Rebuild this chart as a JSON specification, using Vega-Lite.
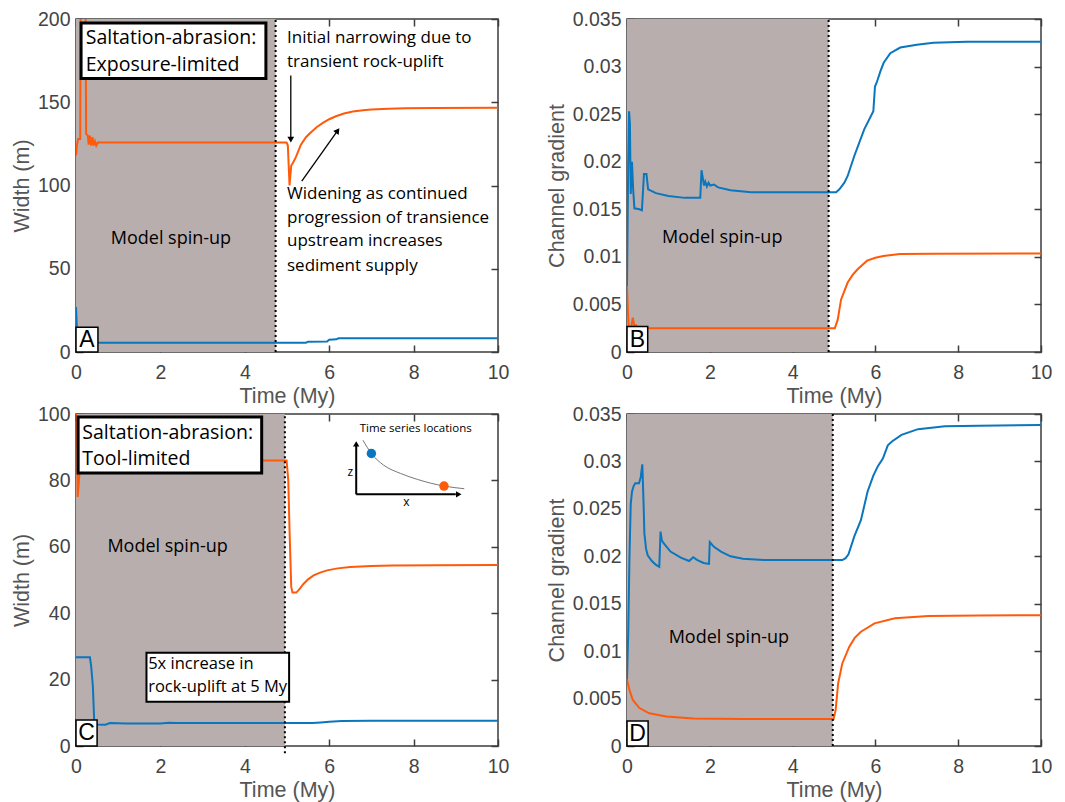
{
 "$schema": "https://vega.github.io/schema/vega-lite/v6.json",
 "padding": {"left": 10, "top": 8, "right": 5, "bottom": 0},
 "background": "white",
 "columns": 2,
 "spacing": {"row": 62, "column": 129},
 "bounds": "flush",
 "align": "each",
 "config": {
  "view": {"stroke": "#3d3d3d", "strokeWidth": 1.5},
  "axis": {"grid": false, "domain": false, "labelFont": "Liberation Sans", "labelFontSize": 19.5, "labelColor": "#444444", "titleFont": "Liberation Sans", "titleFontSize": 21.5, "titleFontWeight": "normal", "titleColor": "#555555", "tickColor": "#3d3d3d", "tickWidth": 1.5, "tickSize": -7, "labelFlush": false, "labelOverlap": false, "titlePadding": 4},
  "axisX": {"labelPadding": 18},
  "axisY": {"labelPadding": 13},
  "text": {"font": "Open Sans", "color": "black"}
 },
 "datasets": {
  "A": [
   {"t":0,"v":27,"s":"up"},{"t":0.02,"v":15,"s":"up"},{"t":0.04,"v":6,"s":"up"},{"t":0.1,"v":5.6,"s":"up"},{"t":5.45,"v":5.6,"s":"up"},{"t":5.5,"v":6.2,"s":"up"},{"t":5.95,"v":6.3,"s":"up"},{"t":6.0,"v":7.4,"s":"up"},{"t":6.17,"v":7.6,"s":"up"},{"t":6.22,"v":8.2,"s":"up"},{"t":10,"v":8.2,"s":"up"},
   {"t":0,"v":118,"s":"down"},{"t":0.02,"v":124,"s":"down"},{"t":0.05,"v":128,"s":"down"},{"t":0.1,"v":128,"s":"down"},{"t":0.115,"v":250,"s":"down"},{"t":0.22,"v":250,"s":"down"},{"t":0.24,"v":131,"s":"down"},{"t":0.28,"v":130,"s":"down"},{"t":0.3,"v":124.5,"s":"down"},{"t":0.33,"v":130,"s":"down"},{"t":0.36,"v":124,"s":"down"},{"t":0.39,"v":129,"s":"down"},{"t":0.42,"v":124,"s":"down"},{"t":0.45,"v":126.5,"s":"down"},{"t":0.48,"v":124,"s":"down"},{"t":0.52,"v":126,"s":"down"},{"t":0.6,"v":125.8,"s":"down"},{"t":4.99,"v":125.8,"s":"down"},{"t":5.02,"v":124,"s":"down"},{"t":5.06,"v":100,"s":"down"},{"t":5.1,"v":112,"s":"down"},{"t":5.14,"v":113.5,"s":"down"},{"t":5.21,"v":117,"s":"down"},{"t":5.33,"v":124.5,"s":"down"},{"t":5.45,"v":129,"s":"down"},{"t":5.55,"v":131.5,"s":"down"},{"t":5.7,"v":135,"s":"down"},{"t":5.85,"v":137.6,"s":"down"},{"t":6.0,"v":139.8,"s":"down"},{"t":6.16,"v":141.6,"s":"down"},{"t":6.35,"v":143.2,"s":"down"},{"t":6.56,"v":144.4,"s":"down"},{"t":6.8,"v":145.2,"s":"down"},{"t":7.0,"v":145.6,"s":"down"},{"t":7.4,"v":146.1,"s":"down"},{"t":7.8,"v":146.4,"s":"down"},{"t":8.5,"v":146.6,"s":"down"},{"t":10,"v":146.7,"s":"down"}
  ],
  "B": [
   {"t":0,"v":0.0069,"s":"up"},{"t":0.03,"v":0.02,"s":"up"},{"t":0.05,"v":0.0253,"s":"up"},{"t":0.07,"v":0.024,"s":"up"},{"t":0.09,"v":0.0166,"s":"up"},{"t":0.12,"v":0.02,"s":"up"},{"t":0.15,"v":0.017,"s":"up"},{"t":0.18,"v":0.0151,"s":"up"},{"t":0.3,"v":0.015,"s":"up"},{"t":0.36,"v":0.0149,"s":"up"},{"t":0.41,"v":0.0187,"s":"up"},{"t":0.47,"v":0.0187,"s":"up"},{"t":0.51,"v":0.0171,"s":"up"},{"t":0.7,"v":0.0167,"s":"up"},{"t":1.0,"v":0.0164,"s":"up"},{"t":1.4,"v":0.0162,"s":"up"},{"t":1.77,"v":0.0162,"s":"up"},{"t":1.8,"v":0.0191,"s":"up"},{"t":1.86,"v":0.0175,"s":"up"},{"t":1.89,"v":0.0179,"s":"up"},{"t":1.93,"v":0.0174,"s":"up"},{"t":1.97,"v":0.0178,"s":"up"},{"t":2.01,"v":0.0175,"s":"up"},{"t":2.1,"v":0.0176,"s":"up"},{"t":2.2,"v":0.0173,"s":"up"},{"t":2.5,"v":0.017,"s":"up"},{"t":3.0,"v":0.0168,"s":"up"},{"t":5.05,"v":0.0168,"s":"up"},{"t":5.13,"v":0.0171,"s":"up"},{"t":5.25,"v":0.0178,"s":"up"},{"t":5.33,"v":0.0185,"s":"up"},{"t":5.49,"v":0.0206,"s":"up"},{"t":5.73,"v":0.0234,"s":"up"},{"t":5.95,"v":0.0253,"s":"up"},{"t":5.99,"v":0.0279,"s":"up"},{"t":6.03,"v":0.0283,"s":"up"},{"t":6.12,"v":0.0295,"s":"up"},{"t":6.2,"v":0.0304,"s":"up"},{"t":6.36,"v":0.0314,"s":"up"},{"t":6.6,"v":0.032,"s":"up"},{"t":7.0,"v":0.0323,"s":"up"},{"t":7.4,"v":0.0325,"s":"up"},{"t":8.2,"v":0.0326,"s":"up"},{"t":10,"v":0.0326,"s":"up"},
   {"t":0,"v":0.0069,"s":"down"},{"t":0.02,"v":0.0045,"s":"down"},{"t":0.04,"v":0.0026,"s":"down"},{"t":0.1,"v":0.0026,"s":"down"},{"t":0.14,"v":0.0036,"s":"down"},{"t":0.18,"v":0.0026,"s":"down"},{"t":0.22,"v":0.0028,"s":"down"},{"t":0.26,"v":0.0025,"s":"down"},{"t":5.02,"v":0.0025,"s":"down"},{"t":5.09,"v":0.0034,"s":"down"},{"t":5.17,"v":0.0055,"s":"down"},{"t":5.33,"v":0.0073,"s":"down"},{"t":5.45,"v":0.0081,"s":"down"},{"t":5.57,"v":0.0087,"s":"down"},{"t":5.8,"v":0.0096,"s":"down"},{"t":6.0,"v":0.0099,"s":"down"},{"t":6.19,"v":0.0101,"s":"down"},{"t":6.59,"v":0.0103,"s":"down"},{"t":7.4,"v":0.01033,"s":"down"},{"t":10,"v":0.01036,"s":"down"}
  ],
  "C": [
   {"t":0,"v":26.7,"s":"up"},{"t":0.33,"v":26.7,"s":"up"},{"t":0.36,"v":24,"s":"up"},{"t":0.4,"v":18,"s":"up"},{"t":0.43,"v":8,"s":"up"},{"t":0.46,"v":6.5,"s":"up"},{"t":0.7,"v":6.4,"s":"up"},{"t":0.8,"v":6.9,"s":"up"},{"t":1.2,"v":6.8,"s":"up"},{"t":2.0,"v":6.8,"s":"up"},{"t":2.2,"v":7.0,"s":"up"},{"t":2.4,"v":6.9,"s":"up"},{"t":5.6,"v":6.9,"s":"up"},{"t":5.8,"v":7.1,"s":"up"},{"t":6.0,"v":7.3,"s":"up"},{"t":6.3,"v":7.5,"s":"up"},{"t":7.0,"v":7.6,"s":"up"},{"t":10,"v":7.6,"s":"up"},
   {"t":0,"v":100,"s":"down"},{"t":0.02,"v":99,"s":"down"},{"t":0.04,"v":75,"s":"down"},{"t":0.07,"v":80,"s":"down"},{"t":0.1,"v":86,"s":"down"},{"t":4.99,"v":86,"s":"down"},{"t":5.03,"v":80,"s":"down"},{"t":5.06,"v":65,"s":"down"},{"t":5.1,"v":48,"s":"down"},{"t":5.13,"v":46.2,"s":"down"},{"t":5.22,"v":46.2,"s":"down"},{"t":5.3,"v":47.3,"s":"down"},{"t":5.39,"v":48.8,"s":"down"},{"t":5.5,"v":50.2,"s":"down"},{"t":5.63,"v":51.4,"s":"down"},{"t":5.8,"v":52.3,"s":"down"},{"t":5.95,"v":52.9,"s":"down"},{"t":6.2,"v":53.5,"s":"down"},{"t":6.5,"v":53.9,"s":"down"},{"t":7.0,"v":54.2,"s":"down"},{"t":7.5,"v":54.35,"s":"down"},{"t":8.5,"v":54.45,"s":"down"},{"t":10,"v":54.5,"s":"down"}
  ],
  "D": [
   {"t":0,"v":0.007,"s":"up"},{"t":0.03,"v":0.012,"s":"up"},{"t":0.06,"v":0.02,"s":"up"},{"t":0.09,"v":0.0255,"s":"up"},{"t":0.12,"v":0.0268,"s":"up"},{"t":0.16,"v":0.0274,"s":"up"},{"t":0.2,"v":0.0277,"s":"up"},{"t":0.29,"v":0.0277,"s":"up"},{"t":0.33,"v":0.0283,"s":"up"},{"t":0.37,"v":0.0297,"s":"up"},{"t":0.4,"v":0.0256,"s":"up"},{"t":0.42,"v":0.0224,"s":"up"},{"t":0.46,"v":0.0208,"s":"up"},{"t":0.5,"v":0.0201,"s":"up"},{"t":0.6,"v":0.0195,"s":"up"},{"t":0.7,"v":0.0191,"s":"up"},{"t":0.78,"v":0.0189,"s":"up"},{"t":0.81,"v":0.0226,"s":"up"},{"t":0.84,"v":0.0217,"s":"up"},{"t":0.88,"v":0.0214,"s":"up"},{"t":1.05,"v":0.0205,"s":"up"},{"t":1.3,"v":0.01985,"s":"up"},{"t":1.5,"v":0.0195,"s":"up"},{"t":1.6,"v":0.0199,"s":"up"},{"t":1.7,"v":0.0196,"s":"up"},{"t":1.85,"v":0.0193,"s":"up"},{"t":1.98,"v":0.0192,"s":"up"},{"t":2.0,"v":0.0215,"s":"up"},{"t":2.1,"v":0.021,"s":"up"},{"t":2.27,"v":0.0205,"s":"up"},{"t":2.5,"v":0.02,"s":"up"},{"t":2.8,"v":0.01975,"s":"up"},{"t":3.3,"v":0.0196,"s":"up"},{"t":5.2,"v":0.0196,"s":"up"},{"t":5.28,"v":0.0198,"s":"up"},{"t":5.35,"v":0.0202,"s":"up"},{"t":5.49,"v":0.0221,"s":"up"},{"t":5.65,"v":0.0238,"s":"up"},{"t":5.81,"v":0.0268,"s":"up"},{"t":5.95,"v":0.0285,"s":"up"},{"t":6.06,"v":0.0295,"s":"up"},{"t":6.18,"v":0.0303,"s":"up"},{"t":6.3,"v":0.0317,"s":"up"},{"t":6.4,"v":0.0321,"s":"up"},{"t":6.63,"v":0.0328,"s":"up"},{"t":7.03,"v":0.0334,"s":"up"},{"t":7.68,"v":0.0337,"s":"up"},{"t":8.5,"v":0.03377,"s":"up"},{"t":10,"v":0.03384,"s":"up"},
   {"t":0,"v":0.007,"s":"down"},{"t":0.06,"v":0.0059,"s":"down"},{"t":0.14,"v":0.00485,"s":"down"},{"t":0.3,"v":0.004,"s":"down"},{"t":0.54,"v":0.00345,"s":"down"},{"t":0.95,"v":0.0031,"s":"down"},{"t":1.6,"v":0.0029,"s":"down"},{"t":2.8,"v":0.00285,"s":"down"},{"t":4.99,"v":0.00285,"s":"down"},{"t":5.04,"v":0.0038,"s":"down"},{"t":5.1,"v":0.0066,"s":"down"},{"t":5.2,"v":0.0087,"s":"down"},{"t":5.37,"v":0.01047,"s":"down"},{"t":5.5,"v":0.0114,"s":"down"},{"t":5.65,"v":0.01205,"s":"down"},{"t":5.98,"v":0.01293,"s":"down"},{"t":6.47,"v":0.01346,"s":"down"},{"t":7.28,"v":0.0137,"s":"down"},{"t":8.5,"v":0.01377,"s":"down"},{"t":10,"v":0.01378,"s":"down"}
  ]
 },
 "concat": [
  {
   "width": 422, "height": 333,
   "resolve": {"axis": {"x": "independent", "y": "independent"}},
   "layer": [
    {"data": {"values": [{"t0": 0, "t1": 4.73, "v0": 0, "v1": 200}]},
     "mark": {"type": "rect", "color": "#b9aeae"},
     "encoding": {
      "x": {"field": "t0", "type": "quantitative", "scale": {"domain": [0, 10], "nice": false}, "axis": {"orient": "top", "labels": false, "title": null, "values": [0, 2, 4, 6, 8, 10]}},
      "x2": {"field": "t1"},
      "y": {"field": "v0", "type": "quantitative", "scale": {"domain": [0, 200], "nice": false}, "axis": {"orient": "right", "labels": false, "title": null, "values": [0, 50, 100, 150, 200]}},
      "y2": {"field": "v1"}}},
    {"data": {"name": "A"},
     "mark": {"type": "line", "strokeWidth": 2, "clip": true},
     "encoding": {
      "x": {"field": "t", "type": "quantitative", "axis": {"title": "Time (My)", "values": [0, 2, 4, 6, 8, 10]}},
      "y": {"field": "v", "type": "quantitative", "axis": {"title": "Width (m)", "values": [0, 50, 100, 150, 200]}},
      "color": {"field": "s", "type": "nominal", "scale": {"domain": ["up", "down"], "range": ["#0a76be", "#ff5a0a"]}, "legend": null}}},
    {"data": {"values": [{"t": 4.73, "v0": 0, "v1": 200}]},
     "mark": {"type": "rule", "strokeDash": [2, 3], "strokeWidth": 2, "color": "black"},
     "encoding": {"x": {"field": "t", "type": "quantitative", "axis": null}, "y": {"field": "v0", "type": "quantitative", "axis": null}, "y2": {"field": "v1"}}},
    {"data": {"values": [{"t0": 0.12, "t1": 4.5, "v0": 164.2, "v1": 197.6}]},
     "mark": {"type": "rect", "fill": "white", "stroke": "black", "strokeWidth": 3},
     "encoding": {"x": {"field": "t0", "type": "quantitative", "axis": null}, "x2": {"field": "t1"}, "y": {"field": "v0", "type": "quantitative", "axis": null}, "y2": {"field": "v1"}}},
    {"data": {"values": [{"t0": 0, "t1": 0.52, "v0": 0, "v1": 14.9}]},
     "mark": {"type": "rect", "fill": "white", "stroke": "black", "strokeWidth": 1.5},
     "encoding": {"x": {"field": "t0", "type": "quantitative", "axis": null}, "x2": {"field": "t1"}, "y": {"field": "v0", "type": "quantitative", "axis": null}, "y2": {"field": "v1"}}},
    {"data": {"values": [{"t": 0.26, "v": 7.3, "label": "A"}]},
     "mark": {"type": "text", "font": "Liberation Sans", "fontSize": 23, "align": "center", "baseline": "middle"},
     "encoding": {"x": {"field": "t", "type": "quantitative", "axis": null}, "y": {"field": "v", "type": "quantitative", "axis": null}, "text": {"field": "label"}}},
    {"data": {"values": [{"t": 0.23, "v": 188.3, "label": "Saltation-abrasion:"}, {"t": 0.23, "v": 172.4, "label": "Exposure-limited"}]},
     "mark": {"type": "text", "fontSize": 19.5, "align": "left", "baseline": "middle"},
     "encoding": {"x": {"field": "t", "type": "quantitative", "axis": null}, "y": {"field": "v", "type": "quantitative", "axis": null}, "text": {"field": "label"}}},
    {"data": {"values": [{"t": 2.25, "v": 67.9, "label": "Model spin-up"}]},
     "mark": {"type": "text", "fontSize": 18, "align": "center", "baseline": "middle"},
     "encoding": {"x": {"field": "t", "type": "quantitative", "axis": null}, "y": {"field": "v", "type": "quantitative", "axis": null}, "text": {"field": "label"}}},
    {"data": {"values": [{"t": 5.0, "v": 188.7, "label": "Initial narrowing due to"}, {"t": 5.0, "v": 174.3, "label": "transient rock-uplift"}, {"t": 5.0, "v": 94.7, "label": "Widening as continued"}, {"t": 5.0, "v": 80.4, "label": "progression of transience"}, {"t": 5.0, "v": 66.4, "label": "upstream increases"}, {"t": 5.0, "v": 51.9, "label": "sediment supply"}]},
     "mark": {"type": "text", "fontSize": 17, "align": "left", "baseline": "middle"},
     "encoding": {"x": {"field": "t", "type": "quantitative", "axis": null}, "y": {"field": "v", "type": "quantitative", "axis": null}, "text": {"field": "label"}}},
    {"data": {"values": [{"t0": 5.09, "v0": 166, "t1": 5.09, "v1": 128}, {"t0": 5.35, "v0": 102.7, "t1": 6.2, "v1": 133}]},
     "mark": {"type": "rule", "strokeWidth": 1.3, "color": "black"},
     "encoding": {"x": {"field": "t0", "type": "quantitative", "axis": null}, "y": {"field": "v0", "type": "quantitative", "axis": null}, "x2": {"field": "t1"}, "y2": {"field": "v1"}}},
    {"data": {"values": [{"t": 5.09, "v": 127.5}]},
     "mark": {"type": "point", "shape": "triangle-down", "filled": true, "color": "black", "size": 45, "opacity": 1},
     "encoding": {"x": {"field": "t", "type": "quantitative", "axis": null}, "y": {"field": "v", "type": "quantitative", "axis": null}}},
    {"data": {"values": [{"t": 6.2, "v": 133}]},
     "mark": {"type": "point", "shape": "triangle-up", "filled": true, "color": "black", "size": 45, "opacity": 1, "angle": 36},
     "encoding": {"x": {"field": "t", "type": "quantitative", "axis": null}, "y": {"field": "v", "type": "quantitative", "axis": null}}}
   ]
  },
  {
   "width": 414, "height": 333,
   "resolve": {"axis": {"x": "independent", "y": "independent"}},
   "layer": [
    {"data": {"values": [{"t0": 0, "t1": 4.87, "v0": 0, "v1": 0.035}]},
     "mark": {"type": "rect", "color": "#b9aeae"},
     "encoding": {
      "x": {"field": "t0", "type": "quantitative", "scale": {"domain": [0, 10], "nice": false}, "axis": {"orient": "top", "labels": false, "title": null, "values": [0, 2, 4, 6, 8, 10]}},
      "x2": {"field": "t1"},
      "y": {"field": "v0", "type": "quantitative", "scale": {"domain": [0, 0.035], "nice": false}, "axis": {"orient": "right", "labels": false, "title": null, "values": [0, 0.005, 0.01, 0.015, 0.02, 0.025, 0.03, 0.035]}},
      "y2": {"field": "v1"}}},
    {"data": {"name": "B"},
     "mark": {"type": "line", "strokeWidth": 2, "clip": true},
     "encoding": {
      "x": {"field": "t", "type": "quantitative", "axis": {"title": "Time (My)", "values": [0, 2, 4, 6, 8, 10]}},
      "y": {"field": "v", "type": "quantitative", "axis": {"title": "Channel gradient", "format": "~g", "values": [0, 0.005, 0.01, 0.015, 0.02, 0.025, 0.03, 0.035]}},
      "color": {"field": "s", "type": "nominal", "scale": {"domain": ["up", "down"], "range": ["#0a76be", "#ff5a0a"]}, "legend": null}}},
    {"data": {"values": [{"t": 4.87, "v0": 0, "v1": 0.035}]},
     "mark": {"type": "rule", "strokeDash": [2, 3], "strokeWidth": 2, "color": "black"},
     "encoding": {"x": {"field": "t", "type": "quantitative", "axis": null}, "y": {"field": "v0", "type": "quantitative", "axis": null}, "y2": {"field": "v1"}}},
    {"data": {"values": [{"t0": 0, "t1": 0.5, "v0": 0, "v1": 0.00268}]},
     "mark": {"type": "rect", "fill": "white", "stroke": "black", "strokeWidth": 1.5},
     "encoding": {"x": {"field": "t0", "type": "quantitative", "axis": null}, "x2": {"field": "t1"}, "y": {"field": "v0", "type": "quantitative", "axis": null}, "y2": {"field": "v1"}}},
    {"data": {"values": [{"t": 0.25, "v": 0.0013, "label": "B"}]},
     "mark": {"type": "text", "font": "Liberation Sans", "fontSize": 23, "align": "center", "baseline": "middle"},
     "encoding": {"x": {"field": "t", "type": "quantitative", "axis": null}, "y": {"field": "v", "type": "quantitative", "axis": null}, "text": {"field": "label"}}},
    {"data": {"values": [{"t": 2.3, "v": 0.01195, "label": "Model spin-up"}]},
     "mark": {"type": "text", "fontSize": 18, "align": "center", "baseline": "middle"},
     "encoding": {"x": {"field": "t", "type": "quantitative", "axis": null}, "y": {"field": "v", "type": "quantitative", "axis": null}, "text": {"field": "label"}}}
   ]
  },
  {
   "width": 422, "height": 332,
   "resolve": {"axis": {"x": "independent", "y": "independent"}},
   "layer": [
    {"data": {"values": [{"t0": 0, "t1": 4.95, "v0": 0, "v1": 100}]},
     "mark": {"type": "rect", "color": "#b9aeae"},
     "encoding": {
      "x": {"field": "t0", "type": "quantitative", "scale": {"domain": [0, 10], "nice": false}, "axis": {"orient": "top", "labels": false, "title": null, "values": [0, 2, 4, 6, 8, 10]}},
      "x2": {"field": "t1"},
      "y": {"field": "v0", "type": "quantitative", "scale": {"domain": [0, 100], "nice": false}, "axis": {"orient": "right", "labels": false, "title": null, "values": [0, 20, 40, 60, 80, 100]}},
      "y2": {"field": "v1"}}},
    {"data": {"name": "C"},
     "mark": {"type": "line", "strokeWidth": 2, "clip": true},
     "encoding": {
      "x": {"field": "t", "type": "quantitative", "axis": {"title": "Time (My)", "values": [0, 2, 4, 6, 8, 10]}},
      "y": {"field": "v", "type": "quantitative", "axis": {"title": "Width (m)", "values": [0, 20, 40, 60, 80, 100]}},
      "color": {"field": "s", "type": "nominal", "scale": {"domain": ["up", "down"], "range": ["#0a76be", "#ff5a0a"]}, "legend": null}}},
    {"data": {"values": [{"t": 4.95, "v0": -2.2, "v1": 100}]},
     "mark": {"type": "rule", "strokeDash": [2, 3], "strokeWidth": 2, "color": "black"},
     "encoding": {"x": {"field": "t", "type": "quantitative", "axis": null}, "y": {"field": "v0", "type": "quantitative", "axis": null}, "y2": {"field": "v1"}}},
    {"data": {"values": [{"t0": 0.05, "t1": 4.4, "v0": 82.2, "v1": 99.1}]},
     "mark": {"type": "rect", "fill": "white", "stroke": "black", "strokeWidth": 3},
     "encoding": {"x": {"field": "t0", "type": "quantitative", "axis": null}, "x2": {"field": "t1"}, "y": {"field": "v0", "type": "quantitative", "axis": null}, "y2": {"field": "v1"}}},
    {"data": {"values": [{"t0": 1.67, "t1": 5.05, "v0": 13.3, "v1": 28.1}]},
     "mark": {"type": "rect", "fill": "white", "stroke": "black", "strokeWidth": 2},
     "encoding": {"x": {"field": "t0", "type": "quantitative", "axis": null}, "x2": {"field": "t1"}, "y": {"field": "v0", "type": "quantitative", "axis": null}, "y2": {"field": "v1"}}},
    {"data": {"values": [{"t0": 0, "t1": 0.5, "v0": 0, "v1": 7.85}]},
     "mark": {"type": "rect", "fill": "white", "stroke": "black", "strokeWidth": 1.5},
     "encoding": {"x": {"field": "t0", "type": "quantitative", "axis": null}, "x2": {"field": "t1"}, "y": {"field": "v0", "type": "quantitative", "axis": null}, "y2": {"field": "v1"}}},
    {"data": {"values": [{"t": 0.25, "v": 3.8, "label": "C"}]},
     "mark": {"type": "text", "font": "Liberation Sans", "fontSize": 23, "align": "center", "baseline": "middle"},
     "encoding": {"x": {"field": "t", "type": "quantitative", "axis": null}, "y": {"field": "v", "type": "quantitative", "axis": null}, "text": {"field": "label"}}},
    {"data": {"values": [{"t": 0.15, "v": 94.4, "label": "Saltation-abrasion:"}, {"t": 0.15, "v": 86.3, "label": "Tool-limited"}]},
     "mark": {"type": "text", "fontSize": 19.5, "align": "left", "baseline": "middle"},
     "encoding": {"x": {"field": "t", "type": "quantitative", "axis": null}, "y": {"field": "v", "type": "quantitative", "axis": null}, "text": {"field": "label"}}},
    {"data": {"values": [{"t": 1.71, "v": 24.7, "label": "5x increase in"}, {"t": 1.71, "v": 17.8, "label": "rock-uplift at 5 My"}]},
     "mark": {"type": "text", "fontSize": 16.5, "align": "left", "baseline": "middle"},
     "encoding": {"x": {"field": "t", "type": "quantitative", "axis": null}, "y": {"field": "v", "type": "quantitative", "axis": null}, "text": {"field": "label"}}},
    {"data": {"values": [{"t": 2.17, "v": 59.8, "label": "Model spin-up"}]},
     "mark": {"type": "text", "fontSize": 18, "align": "center", "baseline": "middle"},
     "encoding": {"x": {"field": "t", "type": "quantitative", "axis": null}, "y": {"field": "v", "type": "quantitative", "axis": null}, "text": {"field": "label"}}},
    {"data": {"values": [{"t": 8.05, "v": 95.4, "label": "Time series locations"}]},
     "mark": {"type": "text", "fontSize": 11.5, "align": "center", "baseline": "middle"},
     "encoding": {"x": {"field": "t", "type": "quantitative", "axis": null}, "y": {"field": "v", "type": "quantitative", "axis": null}, "text": {"field": "label"}}},
    {"data": {"values": [{"t": 6.5, "v": 82.6, "label": "z"}, {"t": 7.83, "v": 73.5, "label": "x"}]},
     "mark": {"type": "text", "fontSize": 12, "align": "center", "baseline": "middle"},
     "encoding": {"x": {"field": "t", "type": "quantitative", "axis": null}, "y": {"field": "v", "type": "quantitative", "axis": null}, "text": {"field": "label"}}},
    {"data": {"values": [{"t": 6.8, "v": 92.1}, {"t": 7.0, "v": 88.1}, {"t": 7.29, "v": 84.6}, {"t": 7.69, "v": 82.1}, {"t": 8.09, "v": 80.3}, {"t": 8.72, "v": 78.3}, {"t": 9.2, "v": 77.5}]},
     "mark": {"type": "line", "strokeWidth": 1, "color": "#777777", "interpolate": "monotone"},
     "encoding": {"x": {"field": "t", "type": "quantitative", "axis": null}, "y": {"field": "v", "type": "quantitative", "axis": null}}},
    {"data": {"values": [{"t0": 6.64, "v0": 75.8, "t1": 6.64, "v1": 90.5}, {"t0": 6.64, "v0": 75.8, "t1": 9.0, "v1": 75.8}]},
     "mark": {"type": "rule", "strokeWidth": 2, "color": "black"},
     "encoding": {"x": {"field": "t0", "type": "quantitative", "axis": null}, "y": {"field": "v0", "type": "quantitative", "axis": null}, "x2": {"field": "t1"}, "y2": {"field": "v1"}}},
    {"data": {"values": [{"t": 6.64, "v": 91.0}]},
     "mark": {"type": "point", "shape": "triangle-up", "filled": true, "color": "black", "size": 40, "opacity": 1},
     "encoding": {"x": {"field": "t", "type": "quantitative", "axis": null}, "y": {"field": "v", "type": "quantitative", "axis": null}}},
    {"data": {"values": [{"t": 9.07, "v": 75.8}]},
     "mark": {"type": "point", "shape": "triangle-right", "filled": true, "color": "black", "size": 40, "opacity": 1},
     "encoding": {"x": {"field": "t", "type": "quantitative", "axis": null}, "y": {"field": "v", "type": "quantitative", "axis": null}}},
    {"data": {"values": [{"t": 7.0, "v": 88.1, "s": "up"}, {"t": 8.72, "v": 78.3, "s": "down"}]},
     "mark": {"type": "point", "filled": true, "size": 90, "opacity": 1},
     "encoding": {"x": {"field": "t", "type": "quantitative", "axis": null}, "y": {"field": "v", "type": "quantitative", "axis": null}, "color": {"field": "s", "type": "nominal", "legend": null}}}
   ]
  },
  {
   "width": 414, "height": 332,
   "resolve": {"axis": {"x": "independent", "y": "independent"}},
   "layer": [
    {"data": {"values": [{"t0": 0, "t1": 4.97, "v0": 0, "v1": 0.035}]},
     "mark": {"type": "rect", "color": "#b9aeae"},
     "encoding": {
      "x": {"field": "t0", "type": "quantitative", "scale": {"domain": [0, 10], "nice": false}, "axis": {"orient": "top", "labels": false, "title": null, "values": [0, 2, 4, 6, 8, 10]}},
      "x2": {"field": "t1"},
      "y": {"field": "v0", "type": "quantitative", "scale": {"domain": [0, 0.035], "nice": false}, "axis": {"orient": "right", "labels": false, "title": null, "values": [0, 0.005, 0.01, 0.015, 0.02, 0.025, 0.03, 0.035]}},
      "y2": {"field": "v1"}}},
    {"data": {"name": "D"},
     "mark": {"type": "line", "strokeWidth": 2, "clip": true},
     "encoding": {
      "x": {"field": "t", "type": "quantitative", "axis": {"title": "Time (My)", "values": [0, 2, 4, 6, 8, 10]}},
      "y": {"field": "v", "type": "quantitative", "axis": {"title": "Channel gradient", "format": "~g", "values": [0, 0.005, 0.01, 0.015, 0.02, 0.025, 0.03, 0.035]}},
      "color": {"field": "s", "type": "nominal", "scale": {"domain": ["up", "down"], "range": ["#0a76be", "#ff5a0a"]}, "legend": null}}},
    {"data": {"values": [{"t": 4.97, "v0": 0, "v1": 0.035}]},
     "mark": {"type": "rule", "strokeDash": [2, 3], "strokeWidth": 2, "color": "black"},
     "encoding": {"x": {"field": "t", "type": "quantitative", "axis": null}, "y": {"field": "v0", "type": "quantitative", "axis": null}, "y2": {"field": "v1"}}},
    {"data": {"values": [{"t0": 0, "t1": 0.51, "v0": 0, "v1": 0.00264}]},
     "mark": {"type": "rect", "fill": "white", "stroke": "black", "strokeWidth": 1.5},
     "encoding": {"x": {"field": "t0", "type": "quantitative", "axis": null}, "x2": {"field": "t1"}, "y": {"field": "v0", "type": "quantitative", "axis": null}, "y2": {"field": "v1"}}},
    {"data": {"values": [{"t": 0.255, "v": 0.0013, "label": "D"}]},
     "mark": {"type": "text", "font": "Liberation Sans", "fontSize": 23, "align": "center", "baseline": "middle"},
     "encoding": {"x": {"field": "t", "type": "quantitative", "axis": null}, "y": {"field": "v", "type": "quantitative", "axis": null}, "text": {"field": "label"}}},
    {"data": {"values": [{"t": 2.46, "v": 0.0114, "label": "Model spin-up"}]},
     "mark": {"type": "text", "fontSize": 18, "align": "center", "baseline": "middle"},
     "encoding": {"x": {"field": "t", "type": "quantitative", "axis": null}, "y": {"field": "v", "type": "quantitative", "axis": null}, "text": {"field": "label"}}}
   ]
  }
 ]
}
